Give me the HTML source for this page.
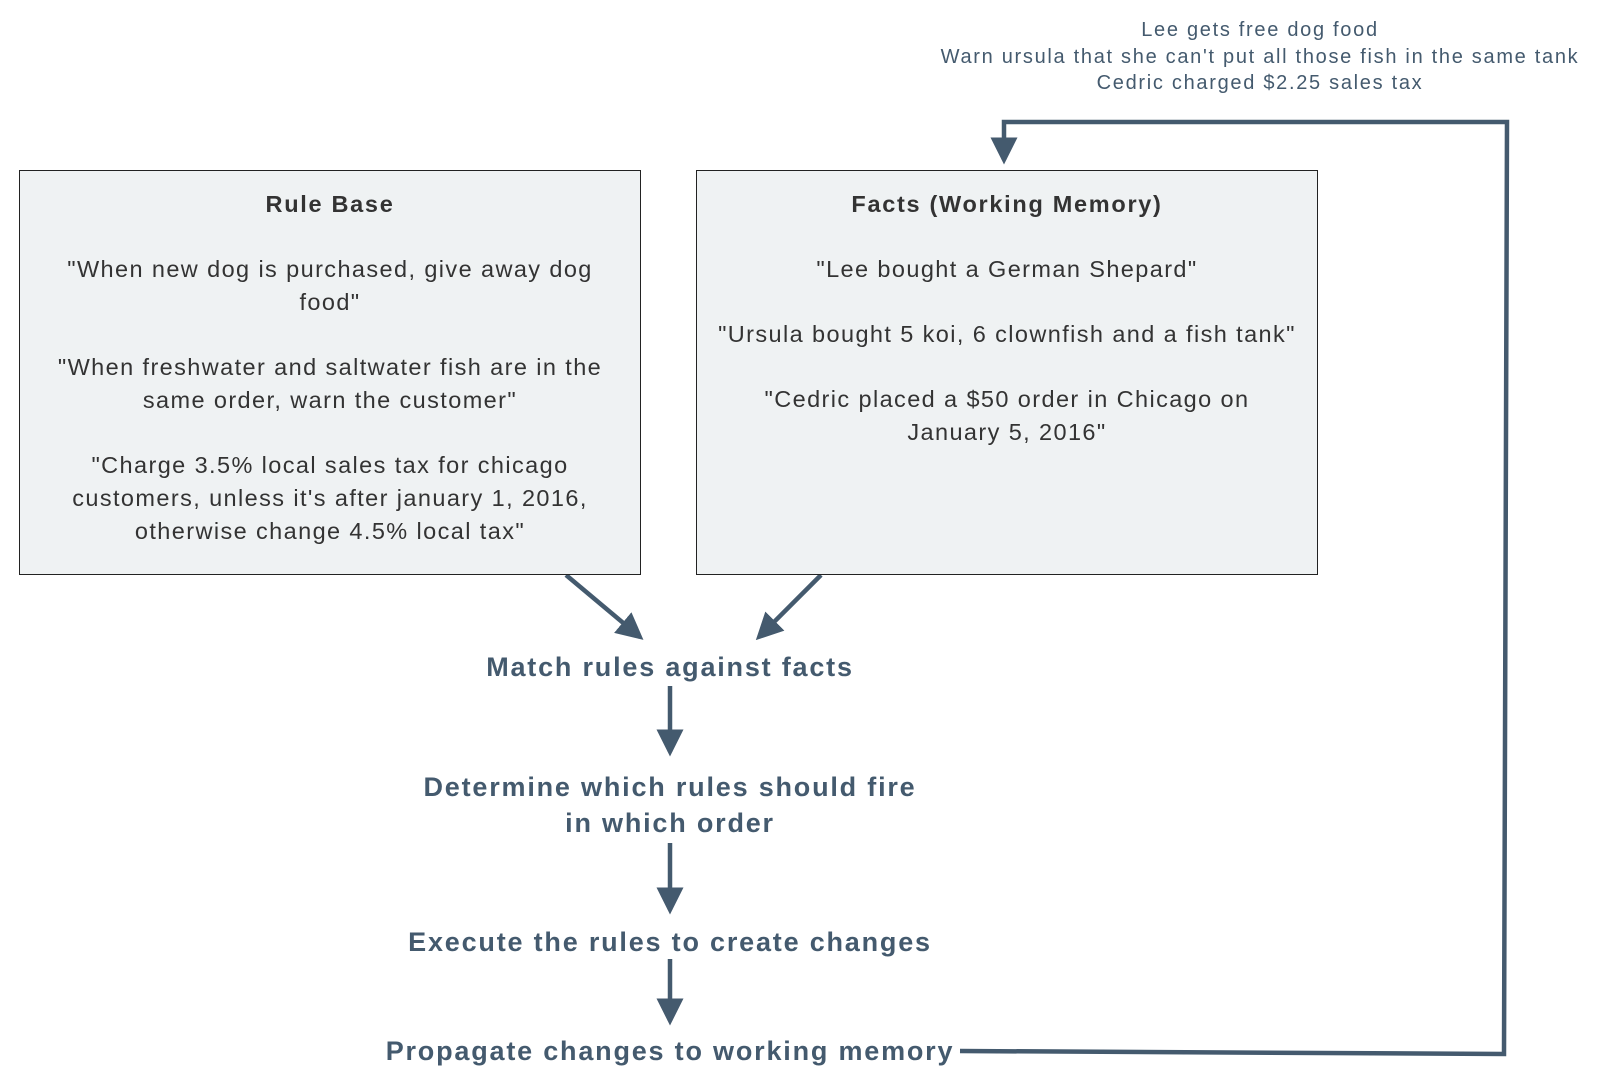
<!DOCTYPE html>
<html><head><meta charset="utf-8"><style>
html,body{margin:0;padding:0;background:#fff;}
body{width:1600px;height:1083px;position:relative;overflow:hidden;font-family:"Liberation Sans",Arial,sans-serif;}
.box{position:absolute;top:170px;height:405px;width:622px;box-sizing:border-box;border:1.5px solid #222;background:#eff2f3;color:#333;font-size:23.5px;letter-spacing:1.4px;line-height:33px;text-align:center;padding:17px 14px 0;}
.box b{display:block;margin-bottom:32px;letter-spacing:1.7px;}
.box p{margin:0 0 32px;}
.r p{padding:0 12px;}
.lbl{position:absolute;color:#445a6e;font-weight:bold;font-size:27px;letter-spacing:1.8px;text-align:center;line-height:36px;white-space:nowrap;}
.top{position:absolute;left:890px;width:740px;top:17px;color:#445a6e;font-size:20px;letter-spacing:1.7px;line-height:26.7px;text-align:center;white-space:nowrap;}
</style></head><body>
<svg width="1600" height="1083" style="position:absolute;left:0;top:0">
<defs><marker id="a" markerWidth="6" markerHeight="6" refX="5" refY="3" orient="auto" markerUnits="strokeWidth"><path d="M0,0 L6,3 L0,6 z" fill="#445a6e"/></marker></defs>
<g stroke="#445a6e" stroke-width="4.5" fill="none" marker-end="url(#a)">
<line x1="566" y1="575" x2="640" y2="637"/>
<line x1="821" y1="575" x2="759" y2="637"/>
<line x1="670" y1="686" x2="670" y2="752"/>
<line x1="670" y1="843" x2="670" y2="910"/>
<line x1="670" y1="959" x2="670" y2="1021"/>
<polyline points="960,1051 1504,1054 1507,122 1004,122 1004,160"/>
</g>
</svg>
<div class="top">Lee gets free dog food<br>Warn ursula that she can't put all those fish in the same tank<br>Cedric charged $2.25 sales tax</div>
<div class="box r" style="left:19px"><b>Rule Base</b><p>"When new dog is purchased, give away dog food"</p><p>"When freshwater and saltwater fish are in the same order, warn the customer"</p><p>"Charge 3.5% local sales tax for chicago customers, unless it's after january 1, 2016, otherwise change 4.5% local tax"</p></div>
<div class="box" style="left:696px"><b>Facts (Working Memory)</b><p>"Lee bought a German Shepard"</p><p>"Ursula bought 5 koi, 6 clownfish and a fish tank"</p><p style="padding:0 40px">"Cedric placed a $50 order in Chicago on January 5, 2016"</p></div>
<div class="lbl" style="left:270px;width:800px;top:649px">Match rules against facts</div>
<div class="lbl" style="left:270px;width:800px;top:769px">Determine which rules should fire<br>in which order</div>
<div class="lbl" style="left:270px;width:800px;top:924px">Execute the rules to create changes</div>
<div class="lbl" style="left:270px;width:800px;top:1033px">Propagate changes to working memory</div>
</body></html>
